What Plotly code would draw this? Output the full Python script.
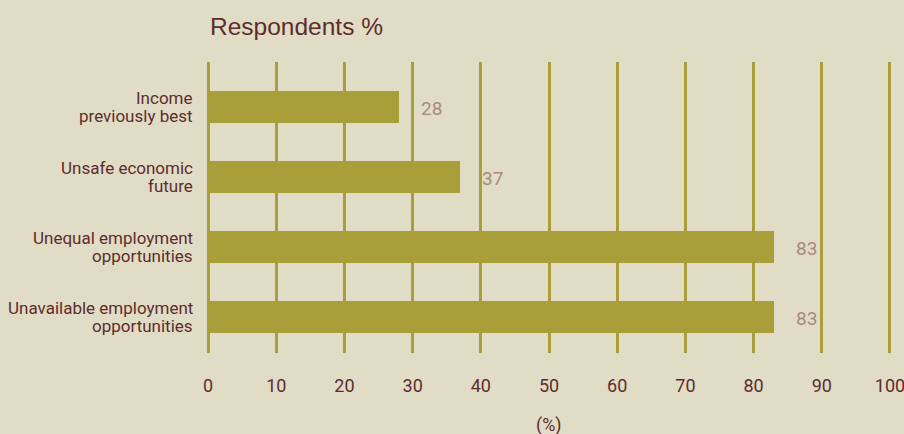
import plotly.graph_objects as go

categories = ["Income<br>previously best", "Unsafe economic<br>future",
              "Unequal employment<br>opportunities", "Unavailable employment<br>opportunities"]
values = [28, 37, 83, 83]
x_ticks = [0, 10, 20, 30, 40, 50, 60, 70, 80, 90, 100]

BG = "#e1dcc6"
BAR = "#a89f3a"
TXT = "#5e2c2c"
VAL = "#a88a80"
FONT = "Roboto, Liberation Sans Narrow, sans-serif"

fig = go.Figure()
fig.add_trace(go.Bar(
    x=values, y=list(range(len(categories))), orientation="h",
    marker=dict(color=BAR, line=dict(width=0)), width=0.46,
    hoverinfo="skip",
))

ann = []
for i, (c, v) in enumerate(zip(categories, values)):
    lines = c.split("<br>")
    n = len(lines)
    for j, ln in enumerate(lines):
        ann.append(dict(x=0, y=i, xref="x", yref="y", text=ln, showarrow=False,
                        xanchor="right", yanchor="middle", xshift=-13,
                        yshift=(n - 1) * 9.2 - j * 18.4,
                        font=dict(family=FONT, size=17, color=TXT)))
    ann.append(dict(x=v, y=i, xref="x", yref="y", text=str(v), showarrow=False,
                    xanchor="left", yanchor="middle", xshift=20, yshift=-1,
                    font=dict(family=FONT, size=19, color=VAL)))

ann.append(dict(x=0.5, y=0, xref="paper", yref="paper", text="(%)", showarrow=False,
                xanchor="center", yanchor="middle", yshift=-72,
                font=dict(family=FONT, size=18, color=TXT)))
ann.append(dict(x=0, y=1, xref="paper", yref="paper", text="Respondents %", showarrow=False,
                xanchor="left", yanchor="middle", yshift=36, xshift=2,
                font=dict(family="Liberation Sans, Arial, sans-serif", size=24.5, color=TXT)))

fig.update_layout(
    width=904, height=434,
    paper_bgcolor=BG, plot_bgcolor=BG,
    margin=dict(l=206, r=12, t=62, b=81, autoexpand=False),
    showlegend=False,
    bargap=0,
    annotations=ann,
    xaxis=dict(range=[-0.3, 100.3], tickvals=x_ticks, showgrid=True, gridcolor=BAR, gridwidth=2.5,
               zeroline=False, showline=False, ticks="outside", ticklen=16, tickcolor=BG,
               ticklabeloverflow="allow", automargin=False,
               tickfont=dict(family=FONT, size=18, color=TXT), fixedrange=True),
    yaxis=dict(range=[3.514, -0.643], showticklabels=False, showgrid=False, zeroline=False,
               showline=False, fixedrange=True, automargin=False),
)

fig.write_html("out.html", config={"displayModeBar": False},
               post_script="document.body.style.margin='0';document.body.style.background='%s';" % BG)
